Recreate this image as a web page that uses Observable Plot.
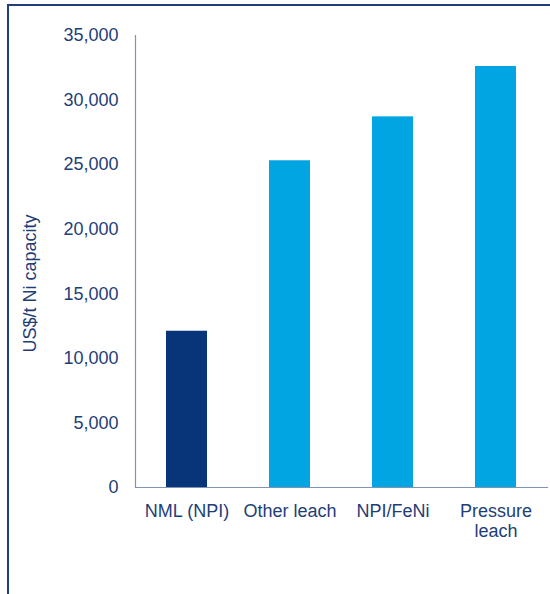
<!DOCTYPE html>
<html><head><meta charset="utf-8">
<script src="https://cdn.jsdelivr.net/npm/d3@7"></script>
<script src="https://cdn.jsdelivr.net/npm/@observablehq/plot@0.6"></script>
<style>
body{margin:0;background:#fff;}
#wrap{position:relative;width:550px;height:594px;overflow:hidden;}
#frame{position:absolute;left:7px;top:4px;width:700px;height:800px;border-left:2px solid #1F3F7A;border-top:2px solid #1F3F7A;pointer-events:none;}
#chart{position:absolute;left:0;top:0;}
</style></head><body>
<div id="wrap"><div id="chart"></div><div id="frame"></div></div>
<script>
const categories = ["NML (NPI)", "Other leach", "NPI/FeNi", "Pressure leach"];
const tickLabels = ["NML (NPI)", "Other leach", "NPI/FeNi", "Pressure\nleach"];
const values = [12100, 25300, 28700, 32600];
const barColors = ["#08357A", "#00A5E2", "#00A5E2", "#00A5E2"];
const yTicks = [0, 5000, 10000, 15000, 20000, 25000, 30000, 35000];
const yLabel = "US$/t Ni capacity";

const data = categories.map((c, i) => ({cat: c, value: values[i], color: barColors[i]}));
const textColor = "#1E3E78";

const chart = Plot.plot({
  width: 550,
  height: 594,
  marginLeft: 135,
  marginRight: 3,
  marginTop: 35,
  marginBottom: 107,
  style: {fontFamily: "'Liberation Sans', Arial, sans-serif", fontSize: "18px", color: textColor, background: "transparent", overflow: "visible"},
  x: {domain: categories, paddingInner: 0.6, paddingOuter: 0.3},
  y: {domain: [0, 35000]},
  marks: [
    Plot.barY(data, {x: "cat", y: "value", fill: "color"}),
    Plot.frame({anchor: "left", stroke: "#7F93B5", strokeWidth: 1.2}),
    Plot.frame({anchor: "bottom", stroke: "#7F93B5", strokeWidth: 1.2}),
    Plot.axisY({ticks: yTicks, tickSize: 0, tickPadding: 17, tickFormat: d3.format(","), label: null, fontSize: 18, fill: textColor}),
    Plot.axisX({tickSize: 0, tickPadding: 15, tickFormat: (d) => tickLabels[categories.indexOf(d)], label: null, fontSize: 18, lineHeight: 1.11, fill: textColor}),
    Plot.text([yLabel], {frameAnchor: "left", text: (d) => d, rotate: -90, dx: -105, dy: 22, fontSize: 18, fill: textColor, textAnchor: "middle"})
  ]
});
document.getElementById("chart").appendChild(chart);
</script>
</body></html>
